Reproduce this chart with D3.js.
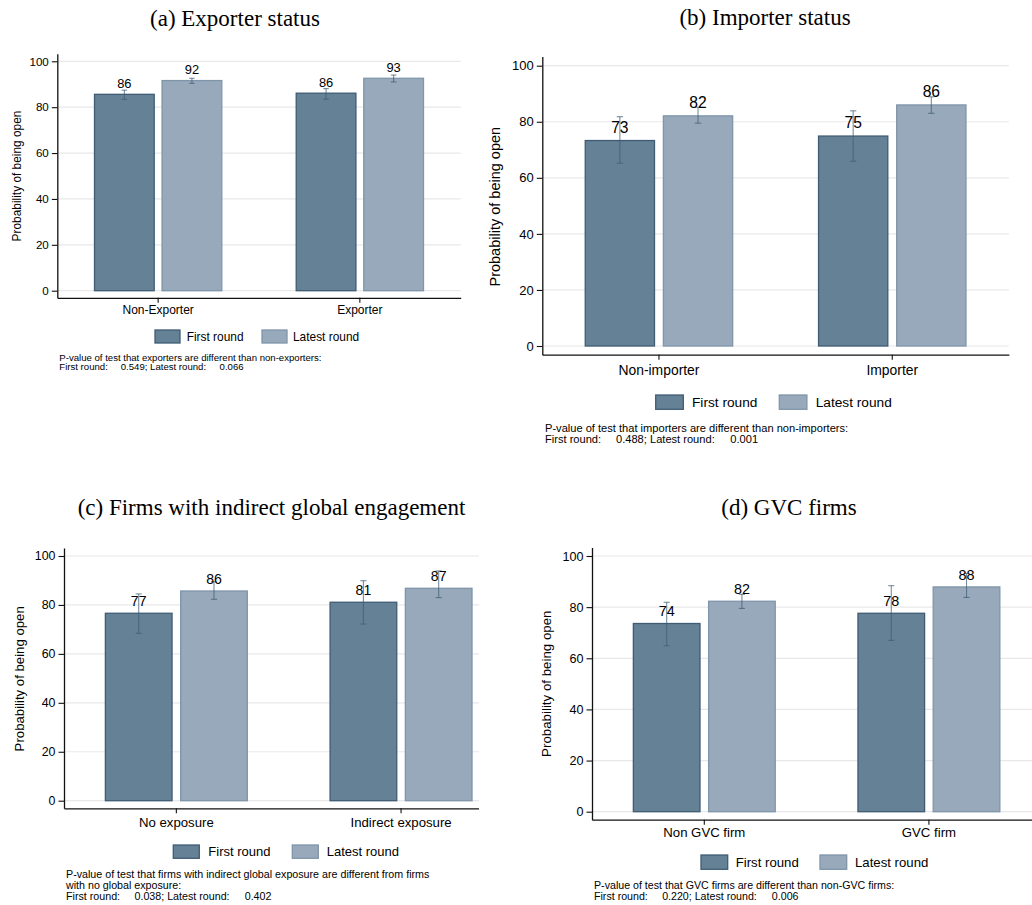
<!DOCTYPE html>
<html><head><meta charset="utf-8">
<script src="https://cdn.jsdelivr.net/npm/d3@7"></script>
<style>
body{margin:0;background:#fff}
svg{display:block}
text{font-family:"Liberation Sans",Arial,sans-serif;fill:#000}
</style>
</head><body>
<svg id="chart" width="1032" height="905"></svg>
<script>
// ---------- shared ----------
const seriesNames = ["First round", "Latest round"];
const yTicks = [0, 20, 40, 60, 80, 100];
const yAxisTitle = "Probability of being open";
const pLabelFirst = "First round:";
const pLabelLatest = "; Latest round:";

// ---------- panel (a) ----------
const titleA = "(a) Exporter status";
const categoriesA = ["Non-Exporter", "Exporter"];
const firstA = [85.6, 86.1];
const firstLoA = [83.4, 83.5];
const firstHiA = [87.4, 88.1];
const latestA = [91.6, 92.6];
const latestLoA = [90.4, 91.0];
const latestHiA = [92.6, 94.0];
const noteA = ["P-value of test that exporters are different than non-exporters:"];
const pvalA = ["0.549", "0.066"];

// ---------- panel (b) ----------
const titleB = "(b) Importer status";
const categoriesB = ["Non-importer", "Importer"];
const firstB = [73.3, 74.9];
const firstLoB = [65.2, 65.9];
const firstHiB = [81.8, 83.9];
const latestB = [82.1, 86.0];
const latestLoB = [79.5, 83.0];
const latestHiB = [85.2, 88.9];
const noteB = ["P-value of test that importers are different than non-importers:"];
const pvalB = ["0.488", "0.001"];

// ---------- panel (c) ----------
const titleC = "(c) Firms with indirect global engagement";
const categoriesC = ["No exposure", "Indirect exposure"];
const firstC = [76.6, 81.1];
const firstLoC = [68.4, 72.2];
const firstHiC = [84.5, 89.9];
const latestC = [85.7, 86.8];
const latestLoC = [82.3, 83.0];
const latestHiC = [89.5, 93.9];
const noteC = ["P-value of test that firms with indirect global exposure are different from firms", "with no global exposure:"];
const pvalC = ["0.038", "0.402"];

// ---------- panel (d) ----------
const titleD = "(d) GVC firms";
const categoriesD = ["Non GVC firm", "GVC firm"];
const firstD = [73.6, 77.6];
const firstLoD = [64.9, 67.0];
const firstHiD = [81.9, 88.4];
const latestD = [82.3, 87.9];
const latestLoD = [79.5, 83.8];
const latestHiD = [85.0, 93.2];
const noteD = ["P-value of test that GVC firms are different than non-GVC firms:"];
const pvalD = ["0.220", "0.006"];

// ---------- styles ----------
const fills = ["#648196", "#97a9ba"];
const strokes = ["#3f5c74", "#7f95a9"];
const errColor = "#3f5c74";

const panels = [
  {title: titleA, cats: categoriesA, vals: [firstA, latestA], lo: [firstLoA, latestLoA], hi: [firstHiA, latestHiA], note: noteA, pv: pvalA,
   L: {left: 57.3, spacing: 201.7, clip: 480, y0: 290.7, y100: 61.3, tickF: 11.6, catF: 12, legF: 11.9, labF: 12.9, ytF: 11.9, noteF: 9.6,
       tx: 235, ty: 26, ytx: 16.7, yty: 176, catBase: 314.2,
       legY: 330, legH: 13, legW: 25, leg1: 155, legT1: 186.7, leg2: 262, legT2: 293, legBase: 340.7,
       noteX: 59.3, noteBase: 361, noteLH: 9}},
  {title: titleB, cats: categoriesB, vals: [firstB, latestB], lo: [firstLoB, latestLoB], hi: [firstHiB, latestHiB], note: noteB, pv: pvalB,
   L: {left: 542.3, spacing: 233.3, clip: 1032, y0: 346, y100: 65.7, tickF: 13, catF: 13.9, legF: 13.7, labF: 15.6, ytF: 14.5, noteF: 11.1,
       tx: 765, ty: 25, ytx: 495, yty: 206.7, catBase: 375,
       legY: 395, legH: 14.3, legW: 27.6, leg1: 655.7, legT1: 692, leg2: 779.3, legT2: 815.7, legBase: 407,
       noteX: 545, noteBase: 432, noteLH: 10.8}},
  {title: titleC, cats: categoriesC, vals: [firstC, latestC], lo: [firstLoC, latestLoC], hi: [firstHiC, latestHiC], note: noteC, pv: pvalC,
   L: {left: 64, spacing: 224.7, clip: 479, y0: 800.7, y100: 556, tickF: 12.4, catF: 13.2, legF: 13, labF: 14.1, ytF: 13.2, noteF: 10.7,
       tx: 271.5, ty: 515, ytx: 19, yty: 678.8, catBase: 827.3,
       legY: 845, legH: 13.3, legW: 26, leg1: 173.3, legT1: 208.3, leg2: 292.3, legT2: 326.7, legBase: 856.3,
       noteX: 66, noteBase: 878, noteLH: 11}},
  {title: titleD, cats: categoriesD, vals: [firstD, latestD], lo: [firstLoD, latestLoD], hi: [firstHiD, latestHiD], note: noteD, pv: pvalD,
   L: {left: 592, spacing: 224.6, clip: 1032, y0: 811.7, y100: 556, tickF: 12.6, catF: 13.2, legF: 13.2, labF: 14.4, ytF: 13.3, noteF: 10.65,
       tx: 789, ty: 515, ytx: 546.7, yty: 683.7, catBase: 837,
       legY: 855, legH: 14.3, legW: 26.7, leg1: 701, legT1: 735.7, leg2: 820, legT2: 855, legBase: 866.7,
       noteX: 594, noteBase: 889, noteLH: 11}}
];

const svg = d3.select("#chart");
const defs = svg.append("defs");
const fmt = d3.format(".0f");

panels.forEach((p, pi) => {
  const L = p.L;
  defs.append("clipPath").attr("id", "clip" + pi)
    .append("rect").attr("x", 0).attr("y", 0).attr("width", L.clip).attr("height", 905);
  const g = svg.append("g").attr("clip-path", `url(#clip${pi})`);

  const y = d3.scaleLinear().domain([0, 100]).range([L.y0, L.y100]);
  const yAx = y.copy().domain([-3.1, 103.3]).range([y(-3.1), y(103.3)]);
  const x = d3.scaleBand().domain(p.cats).range([L.left, L.left + 2 * L.spacing]).padding(0);
  const xs = d3.scaleBand().domain(seriesNames).range([0, x.bandwidth()])
    .paddingInner(0.0985).paddingOuter(0.5418);
  const right = x.range()[1];

  // title
  svg.append("text").attr("x", L.tx).attr("y", L.ty).attr("text-anchor", "middle")
    .style("font-family", '"Liberation Serif","Times New Roman",serif').style("font-size", "23px")
    .text(p.title);

  // gridlines
  g.append("g").selectAll("line").data(yTicks).join("line")
    .attr("x1", L.left).attr("x2", right)
    .attr("y1", d => y(d)).attr("y2", d => y(d))
    .attr("stroke", "#e8e8e8").attr("stroke-width", 1.2);

  // bars
  const items = [];
  p.cats.forEach((c, ci) => seriesNames.forEach((s, si) => {
    items.push({c, s, si, v: p.vals[si][ci], lo: p.lo[si][ci], hi: p.hi[si][ci]});
  }));
  const bw = xs.bandwidth();
  const cx = d => x(d.c) + xs(d.s) + bw / 2;

  g.append("g").selectAll("rect").data(items).join("rect")
    .attr("x", d => x(d.c) + xs(d.s) + 0.6)
    .attr("y", d => y(d.v))
    .attr("width", bw - 1.2)
    .attr("height", d => y(0) - y(d.v))
    .attr("fill", d => fills[d.si])
    .attr("stroke", d => strokes[d.si])
    .attr("stroke-width", 1.3);

  // error bars
  const cap = bw * 0.045;
  const eg = g.append("g").attr("stroke", errColor).attr("stroke-width", 1.1).attr("stroke-opacity", 0.7).attr("fill", "none");
  items.forEach(d => {
    eg.append("line").attr("x1", cx(d)).attr("x2", cx(d)).attr("y1", y(d.lo)).attr("y2", y(d.hi));
    eg.append("line").attr("x1", cx(d) - cap).attr("x2", cx(d) + cap).attr("y1", y(d.lo)).attr("y2", y(d.lo));
    eg.append("line").attr("x1", cx(d) - cap).attr("x2", cx(d) + cap).attr("y1", y(d.hi)).attr("y2", y(d.hi));
  });

  // value labels
  g.append("g").selectAll("text").data(items).join("text")
    .attr("x", cx).attr("y", d => y(d.v) - L.labF * 0.5)
    .attr("text-anchor", "middle").style("font-size", L.labF + "px")
    .text(d => fmt(d.v));

  // y axis
  const ya = g.append("g").attr("transform", `translate(${L.left},0)`)
    .call(d3.axisLeft(yAx).tickValues(yTicks).tickSizeInner(5.5).tickSizeOuter(0).tickPadding(3).tickFormat(d3.format("d")));
  ya.select(".domain").attr("stroke", "#111").attr("stroke-width", 1.3);
  ya.selectAll(".tick line").attr("stroke", "#111").attr("stroke-width", 1.1);
  ya.selectAll(".tick text").style("font-size", L.tickF + "px").style("font-family", '"Liberation Sans",Arial,sans-serif').attr("fill", "#000");

  // x axis
  const axY = y(-3.1);
  const xa = g.append("g").attr("transform", `translate(0,${axY})`)
    .call(d3.axisBottom(x).tickSizeInner(5).tickSizeOuter(0));
  xa.select(".domain").attr("stroke", "#111").attr("stroke-width", 1.3);
  xa.selectAll(".tick line").attr("stroke", "#111").attr("stroke-width", 1.1);
  xa.selectAll(".tick text").attr("y", L.catBase - axY).attr("dy", 0)
    .style("font-size", L.catF + "px").style("font-family", '"Liberation Sans",Arial,sans-serif').attr("fill", "#000");

  // y axis title
  svg.append("text").attr("transform", `translate(${L.ytx},${L.yty}) rotate(-90)`)
    .attr("text-anchor", "middle").attr("dy", "0.35em").style("font-size", L.ytF + "px")
    .text(yAxisTitle);

  // legend
  const lg = svg.append("g");
  [[L.leg1, L.legT1], [L.leg2, L.legT2]].forEach((pos, si) => {
    lg.append("rect").attr("x", pos[0]).attr("y", L.legY).attr("width", L.legW).attr("height", L.legH)
      .attr("fill", fills[si]).attr("stroke", strokes[si]).attr("stroke-width", 1.3);
    lg.append("text").attr("x", pos[1]).attr("y", L.legBase).style("font-size", L.legF + "px").text(seriesNames[si]);
  });

  // note
  const ng = svg.append("g").style("font-size", L.noteF + "px");
  p.note.forEach((line, li) => {
    ng.append("text").attr("x", L.noteX).attr("y", L.noteBase + li * L.noteLH).text(line);
  });
  const last = ng.append("text").attr("x", L.noteX).attr("y", L.noteBase + p.note.length * L.noteLH);
  last.append("tspan").text(pLabelFirst);
  last.append("tspan").attr("x", L.noteX + 6.4 * L.noteF).text(p.pv[0] + pLabelLatest);
  last.append("tspan").attr("x", L.noteX + 16.7 * L.noteF).text(p.pv[1]);
});
</script>
</body></html>
